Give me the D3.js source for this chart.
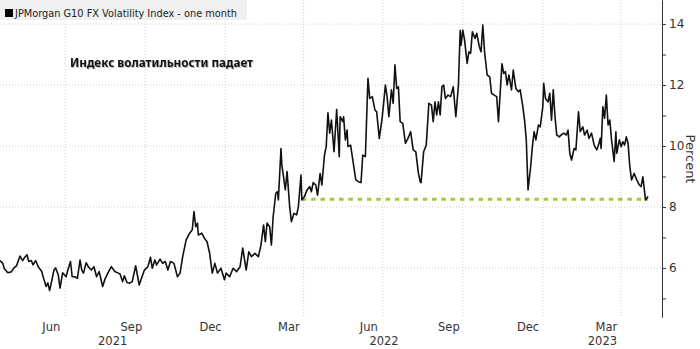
<!DOCTYPE html>
<html>
<head>
<meta charset="utf-8">
<script src="https://cdn.jsdelivr.net/npm/d3@7"></script>
<style>
body { margin: 0; background: #fff; }
svg { display: block; font-family: 'DejaVu Sans', sans-serif; }
</style>
</head>
<body>
<svg id="chart" width="700" height="349"></svg>
<script>
// JPMorgan G10 FX vol (roughly every 2-4 days)
const dates = [
'2021-04-17','2021-04-20','2021-04-22','2021-04-26','2021-04-30','2021-05-03','2021-05-06','2021-05-10','2021-05-13','2021-05-15',
'2021-05-18','2021-05-20','2021-05-23','2021-05-25','2021-05-28','2021-05-31','2021-06-04','2021-06-06','2021-06-09','2021-06-11',
'2021-06-13','2021-06-15','2021-06-18','2021-06-20','2021-06-23','2021-06-25','2021-06-28','2021-07-02','2021-07-04','2021-07-07',
'2021-07-09','2021-07-12','2021-07-15','2021-07-18','2021-07-20','2021-07-22','2021-07-25','2021-07-28','2021-07-31','2021-08-03',
'2021-08-06','2021-08-09','2021-08-13','2021-08-16','2021-08-19','2021-08-23','2021-08-27','2021-08-31','2021-09-02','2021-09-05',
'2021-09-07','2021-09-10','2021-09-13','2021-09-16','2021-09-20','2021-09-24','2021-09-28','2021-09-30','2021-10-04','2021-10-07',
'2021-10-09','2021-10-12','2021-10-14','2021-10-18','2021-10-21','2021-10-24','2021-10-27','2021-10-30','2021-11-03','2021-11-07',
'2021-11-10','2021-11-13','2021-11-17','2021-11-21','2021-11-24','2021-11-26','2021-11-28','2021-11-30','2021-12-01','2021-12-05',
'2021-12-08','2021-12-11','2021-12-14','2021-12-17','2021-12-20','2021-12-23','2021-12-27','2021-12-31','2022-01-02','2022-01-06',
'2022-01-10','2022-01-14','2022-01-18','2022-01-21','2022-01-25','2022-01-28','2022-01-31','2022-02-04','2022-02-08','2022-02-11',
'2022-02-14','2022-02-16','2022-02-18','2022-02-21','2022-02-23','2022-02-25','2022-02-28','2022-03-02','2022-03-03','2022-03-06',
'2022-03-07','2022-03-11','2022-03-13','2022-03-16','2022-03-18','2022-03-21','2022-03-24','2022-03-26','2022-03-29','2022-03-30',
'2022-04-02','2022-04-05','2022-04-08','2022-04-10','2022-04-12','2022-04-15','2022-04-17','2022-04-20','2022-04-22','2022-04-25',
'2022-04-27','2022-04-29','2022-05-01','2022-05-03','2022-05-06','2022-05-09','2022-05-12','2022-05-13','2022-05-16','2022-05-17',
'2022-05-19','2022-05-21','2022-05-22','2022-05-25','2022-05-27','2022-05-31','2022-06-03','2022-06-06','2022-06-08','2022-06-11',
'2022-06-14','2022-06-16','2022-06-19','2022-06-22','2022-06-24','2022-06-27','2022-06-30','2022-07-02','2022-07-04','2022-07-06',
'2022-07-08','2022-07-11','2022-07-13','2022-07-15','2022-07-17','2022-07-19','2022-07-21','2022-07-24','2022-07-27','2022-07-30',
'2022-08-02','2022-08-05','2022-08-08','2022-08-11','2022-08-13','2022-08-14','2022-08-17','2022-08-20','2022-08-23','2022-08-26',
'2022-08-28','2022-08-30','2022-09-01','2022-09-03','2022-09-05','2022-09-07','2022-09-09','2022-09-11','2022-09-14','2022-09-17',
'2022-09-20','2022-09-23','2022-09-26','2022-09-28','2022-09-29','2022-10-01','2022-10-03','2022-10-06','2022-10-08','2022-10-10',
'2022-10-12','2022-10-15','2022-10-17','2022-10-20','2022-10-22','2022-10-24','2022-10-26','2022-10-29','2022-11-01','2022-11-03',
'2022-11-06','2022-11-09','2022-11-11','2022-11-15','2022-11-17','2022-11-19','2022-11-21','2022-11-23','2022-11-26','2022-11-28',
'2022-12-01','2022-12-04','2022-12-06','2022-12-09','2022-12-11','2022-12-13','2022-12-15','2022-12-18','2022-12-20','2022-12-22',
'2022-12-24','2022-12-27','2022-12-29','2023-01-01','2023-01-02','2023-01-04','2023-01-07','2023-01-09','2023-01-11','2023-01-13',
'2023-01-15','2023-01-17','2023-01-20','2023-01-22','2023-01-25','2023-01-28','2023-01-30','2023-02-01','2023-02-03','2023-02-06',
'2023-02-08','2023-02-11','2023-02-13','2023-02-16','2023-02-18','2023-02-21','2023-02-23','2023-02-26','2023-03-01','2023-03-04',
'2023-03-06','2023-03-08','2023-03-09','2023-03-11','2023-03-13','2023-03-15','2023-03-17','2023-03-19','2023-03-21','2023-03-24',
'2023-03-26','2023-03-27','2023-03-30','2023-04-01','2023-04-03','2023-04-05','2023-04-07','2023-04-09','2023-04-11','2023-04-13',
'2023-04-16','2023-04-19','2023-04-22','2023-04-24','2023-04-26','2023-04-28','2023-04-29','2023-05-02'
];
const values = [
6.24,6.16,5.97,5.84,5.87,6.00,6.07,6.39,6.24,6.33,
6.43,6.21,6.24,6.10,6.24,6.04,5.88,5.67,5.39,5.51,
5.26,5.51,5.93,6.00,5.77,5.34,5.84,5.71,5.93,6.21,
5.71,5.71,5.66,6.26,5.93,5.83,6.17,6.02,5.93,6.04,
5.71,5.88,5.39,5.66,5.83,6.04,5.88,5.83,5.80,5.55,
5.74,5.52,5.50,5.55,6.07,5.44,5.77,5.93,6.04,6.35,
5.99,6.26,6.10,6.29,6.15,6.21,5.93,6.21,6.15,5.71,
5.83,6.37,6.92,7.14,7.25,7.85,7.35,7.47,7.08,7.14,
6.97,6.86,6.48,5.83,6.15,5.83,5.99,5.61,5.83,5.71,
5.99,5.88,6.04,6.65,5.93,6.53,6.37,6.48,6.37,6.75,
7.41,6.86,7.47,7.35,6.75,7.68,8.45,8.50,8.23,9.92,
9.38,8.56,9.16,8.01,7.52,7.79,7.74,8.01,9.05,8.23,
8.34,8.56,8.67,8.50,8.80,8.72,8.39,9.10,8.72,9.70,
9.98,11.09,10.42,10.85,9.81,11.20,9.65,10.96,10.80,10.96,
10.20,10.52,9.98,10.03,9.65,8.89,8.83,8.80,9.70,9.65,
12.22,11.56,11.62,11.18,11.12,10.25,10.85,11.40,12.00,11.62,
10.96,11.84,11.40,12.66,11.89,11.94,10.80,10.74,10.09,10.25,
10.47,9.87,9.81,9.10,8.83,8.80,9.81,10.03,11.40,11.34,
10.80,11.45,11.02,11.45,11.02,11.94,12.00,11.56,11.67,11.62,
11.94,10.96,12.00,13.80,13.31,13.80,13.48,12.71,13.09,13.04,
13.75,13.53,13.70,13.26,13.09,13.97,13.09,12.33,12.27,11.73,
11.67,11.62,10.80,12.70,12.38,12.44,12.00,12.33,11.84,12.49,
11.89,11.78,11.84,11.29,10.85,10.20,8.56,9.32,9.98,10.47,
10.20,10.69,10.63,11.29,12.06,11.56,11.45,11.73,10.85,11.84,
10.96,10.36,10.30,10.36,10.42,10.36,10.52,9.76,9.54,9.92,
9.87,11.12,10.47,10.63,10.36,10.52,10.25,10.42,10.03,9.87,
10.03,10.25,9.92,11.29,10.91,11.67,10.69,10.85,10.20,9.49,
10.47,9.76,10.20,9.98,10.14,10.03,10.30,10.09,9.32,8.89,
9.10,8.89,8.72,8.67,8.99,8.50,8.23,8.34
];

const yTicks = [6, 8, 10, 12, 14];
const yMinorTicks = [5, 7, 9, 11, 13];
const monthTicks = ['2021-06-01','2021-09-01','2021-12-01','2022-03-01','2022-06-01','2022-09-01','2022-12-01','2023-03-01'];
const years = ['2021', '2022', '2023'];
const xDomain = ['2021-04-17', '2023-05-18'];
const yDomain = [4.39, 14.79];
const seriesName = 'JPMorgan G10 FX Volatility Index - one month';
const note = 'Индекс волатильности падает';
const axisTitle = 'Percent';
// dotted support level drawn on the chart
const supportLevel = 8.25;
const supportDates = ['2022-03-30', '2023-05-02'];

function draw_chart(axis_key)
{
    let svg = d3.select(`#${axis_key}`)
    let plotW = 662;
    let plotH = 317;
    let parse = d3.timeParse('%Y-%m-%d');

    let xScale = d3.scaleTime()
        .domain(xDomain.map(parse))
        .range([0, plotW]);
    let yScale = d3.scaleLinear()
        .domain(yDomain)
        .range([plotH, 0]);

    // grid
    svg.append('g')
        .selectAll('line')
        .data(yTicks)
        .enter()
        .append('line')
        .attr('x1', 0).attr('x2', plotW)
        .attr('y1', d => yScale(d)).attr('y2', d => yScale(d))
        .style('stroke', '#cfcfcf')
        .style('stroke-dasharray', '1,2');

    let gridDates = monthTicks.map(d => d3.timeMonth.offset(parse(d), 1));
    svg.append('g')
        .selectAll('line')
        .data(gridDates)
        .enter()
        .append('line')
        .attr('x1', d => xScale(d)).attr('x2', d => xScale(d))
        .attr('y1', 0).attr('y2', plotH)
        .style('stroke', '#cfcfcf')
        .style('stroke-dasharray', '1,2');

    // month + year labels
    svg.append('g')
        .selectAll('text')
        .data(monthTicks)
        .enter()
        .append('text')
        .attr('x', d => xScale(d3.timeDay.offset(parse(d), 14)))
        .attr('y', 331)
        .attr('text-anchor', 'middle')
        .style('font-size', '11.5px')
        .style('fill', '#333')
        .text(d => d3.timeFormat('%b')(parse(d)));

    svg.append('g')
        .selectAll('text')
        .data(years)
        .enter()
        .append('text')
        .attr('x', function (d) {
            let a = d3.max([parse(d + '-01-01'), xScale.domain()[0]]);
            let b = d3.min([parse((+d + 1) + '-01-01'), xScale.domain()[1]]);
            return (xScale(a) + xScale(b)) / 2;})
        .attr('y', 345)
        .attr('text-anchor', 'middle')
        .style('font-size', '11.5px')
        .style('fill', '#333')
        .text(d => d);

    // right axis
    let yAxis = svg.append('g')
        .attr('transform', `translate(${plotW}, 0)`)
        .call(d3.axisRight(yScale).tickValues(yTicks).tickSize(4).tickSizeOuter(0).tickPadding(3));
    svg.append('g')
        .attr('transform', `translate(${plotW}, 0)`)
        .call(d3.axisRight(yScale).tickValues(yMinorTicks).tickSize(4).tickSizeOuter(0).tickFormat(''));
    svg.selectAll('.domain, .tick line').style('stroke', '#333');
    yAxis.selectAll('text')
        .style('font-family', "'DejaVu Sans', sans-serif")
        .style('font-size', '12px')
        .style('fill', '#333');

    svg.append('text')
        .attr('transform', 'translate(686, 159) rotate(90)')
        .attr('text-anchor', 'middle')
        .style('font-size', '13px')
        .style('fill', '#333')
        .text(axisTitle);

    // support level
    svg.append('line')
        .attr('x1', xScale(parse(supportDates[0])))
        .attr('x2', xScale(parse(supportDates[1])))
        .attr('y1', yScale(supportLevel))
        .attr('y2', yScale(supportLevel))
        .style('stroke', '#9fcd33')
        .style('stroke-width', 3)
        .style('stroke-dasharray', '4.5,4.8');

    // series
    let line = d3.line()
        .x((d, i) => xScale(parse(dates[i])))
        .y(d => yScale(d));
    svg.append('path')
        .datum(values)
        .attr('d', line)
        .style('fill', 'none')
        .style('stroke', '#111')
        .style('stroke-width', 1.6)
        .style('stroke-linejoin', 'round');

    // legend
    svg.append('rect')
        .attr('x', 0).attr('y', 0)
        .attr('width', 247).attr('height', 20)
        .style('fill', '#f0f0f0');
    svg.append('rect')
        .attr('x', 5).attr('y', 9)
        .attr('width', 8).attr('height', 8)
        .style('fill', '#000');
    svg.append('text')
        .attr('x', 15).attr('y', 17)
        .attr('textLength', 222)
        .attr('lengthAdjust', 'spacingAndGlyphs')
        .style('font-size', '11px')
        .style('fill', '#222')
        .text(seriesName);

    // annotation
    svg.append('text')
        .attr('x', 70).attr('y', 67)
        .attr('textLength', 183)
        .attr('lengthAdjust', 'spacingAndGlyphs')
        .style('font-family', "'Noto Sans', sans-serif")
        .style('font-weight', 'bold')
        .style('font-size', '12.5px')
        .style('fill', '#111')
        .style('filter', 'drop-shadow(1px 1px 0 rgba(0,0,0,0.25))')
        .text(note);
}

draw_chart('chart');
</script>
</body>
</html>
